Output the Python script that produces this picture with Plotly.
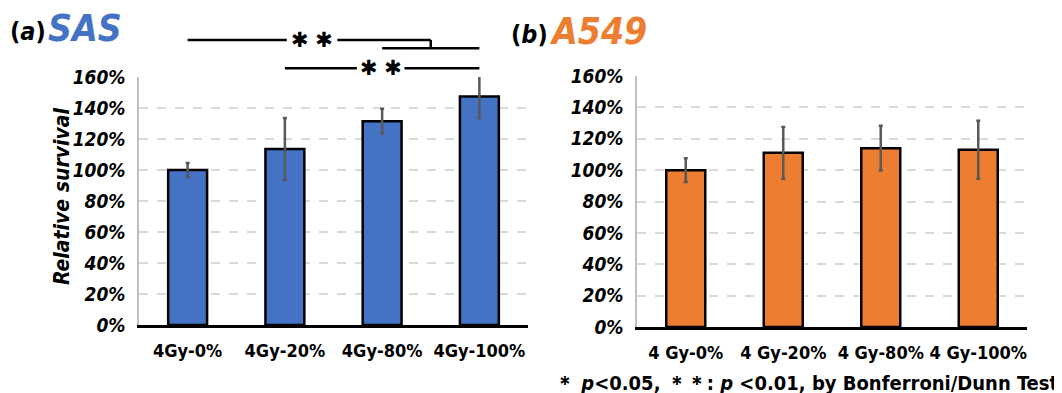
import plotly.graph_objects as go

# ---- data ----
cats_sas = ["4Gy-0%", "4Gy-20%", "4Gy-80%", "4Gy-100%"]
sas_mean = [100, 113.5, 131.5, 147.5]
sas_err = [4.5, 20, 8, 14]

cats_a549 = ["4 Gy-0%", "4 Gy-20%", "4 Gy-80%", "4 Gy-100%"]
a549_mean = [100, 111, 114, 113]
a549_err = [7.5, 16.5, 14.3, 18.5]

yticks = [0, 20, 40, 60, 80, 100, 120, 140, 160]
ytext = [f"{v}%" for v in yticks]

BLUE = "#4472C4"
ORANGE = "#ED7D31"
W, H = 1062, 393
OFF = 8  # page body margin offset
FONT = "DejaVu Sans Condensed, DejaVu Sans, sans-serif"


def px(x):
    return (x - OFF) / W


def py(y):
    return 1 - (y - OFF) / H


fig = go.Figure()
fig.add_trace(go.Bar(
    x=cats_sas, y=sas_mean, xaxis="x", yaxis="y",
    marker=dict(color=BLUE, line=dict(color="black", width=2.5)),
    error_y=dict(type="data", array=sas_err, color="#595959", thickness=2.5, width=2),
    showlegend=False, hoverinfo="skip"))
fig.add_trace(go.Bar(
    x=cats_a549, y=a549_mean, xaxis="x2", yaxis="y2",
    marker=dict(color=ORANGE, line=dict(color="black", width=2.5)),
    error_y=dict(type="data", array=a549_err, color="#595959", thickness=2.5, width=2),
    showlegend=False, hoverinfo="skip"))

ytick_font = dict(family=FONT, size=19, color="black", weight="bold", style="italic")
xtick_font = dict(family=FONT, size=18, color="black", weight="bold")

common_y = dict(range=[0, 160], tickvals=yticks, ticktext=ytext, tickfont=ytick_font,
                showgrid=True, gridcolor="#D9D9D9", griddash="dash", gridwidth=1.5,
                zeroline=False, showline=True, linecolor="#BFBFBF", linewidth=1.5,
                ticks="", ticklabelstandoff=8, automargin=False, fixedrange=True)
common_x = dict(tickfont=xtick_font, showline=True, linecolor="black", linewidth=2.5,
                ticks="", showgrid=False, ticklabelstandoff=8, automargin=False,
                fixedrange=True)

fig.update_layout(
    width=W, height=H,
    margin=dict(l=0, r=0, t=0, b=0, pad=0),
    plot_bgcolor="white", paper_bgcolor="white",
    bargap=0.6,
    xaxis=dict(domain=[px(139), px(528)], anchor="y", **common_x),
    yaxis=dict(domain=[py(325), py(77)], anchor="x", **common_y),
    xaxis2=dict(domain=[px(637), px(1027)], anchor="y2", **common_x),
    yaxis2=dict(domain=[py(327), py(76)], anchor="x2", **common_y),
)

# significance brackets (x in category index units of the left panel)
LINE = dict(color="black", width=2.5)
y_top, y_step, y_second = py(40), py(48.3), py(68.3)
segments = [
    (0, 1.02, y_top, y_top),
    (1.54, 2.5, y_top, y_top),
    (2.5, 2.5, y_top, y_step),
    (2.0, 3.0, y_step, y_step),
    (1.0, 1.74, y_second, y_second),
    (2.23, 3.0, y_second, y_second),
]
for x0, x1, y0, y1 in segments:
    fig.add_shape(type="line", xref="x", yref="paper", x0=x0, x1=x1, y0=y0, y1=y1,
                  line=LINE)

star_font = dict(family="DejaVu Sans", size=21, color="black")
fig.add_annotation(x=1.28, y=y_top, xref="x", yref="paper", text="✱ ✱", showarrow=False,
                   font=star_font, xanchor="center", yanchor="middle")
fig.add_annotation(x=1.985, y=y_second, xref="x", yref="paper", text="✱ ✱", showarrow=False,
                   font=star_font, xanchor="center", yanchor="middle")

# panel titles
paren_font = dict(family=FONT, size=25, color="black", weight="bold")
fig.add_annotation(x=px(8), y=py(31), xref="paper", yref="paper", text="(<i>a</i>)",
                   showarrow=False, font=paren_font, xanchor="left", yanchor="middle")
fig.add_annotation(x=px(46), y=py(29), xref="paper", yref="paper", text="SAS",
                   showarrow=False, xanchor="left", yanchor="middle",
                   font=dict(family=FONT, size=37, color=BLUE, weight="bold", style="italic"))
fig.add_annotation(x=px(509), y=py(34), xref="paper", yref="paper", text="(<i>b</i>)",
                   showarrow=False, font=paren_font, xanchor="left", yanchor="middle")
fig.add_annotation(x=px(547), y=py(32), xref="paper", yref="paper", text="A549",
                   showarrow=False, xanchor="left", yanchor="middle",
                   font=dict(family=FONT, size=37, color=ORANGE, weight="bold", style="italic"))

# y-axis title
fig.add_annotation(x=px(62), y=py(196), xref="paper", yref="paper", text="Relative survival",
                   showarrow=False, textangle=-90, xanchor="center", yanchor="middle",
                   font=dict(family=FONT, size=21, color="black", weight="bold", style="italic"))

# footnote
fig.add_annotation(x=px(553), y=py(383), xref="paper", yref="paper",
                   text="＊ <i>p</i>&lt;0.05, ＊＊: <i>p</i> &lt;0.01, by Bonferroni/Dunn Test",
                   showarrow=False, xanchor="left", yanchor="middle",
                   font=dict(family=FONT, size=20, color="black", weight="bold"))

fig.write_html("out.html")
